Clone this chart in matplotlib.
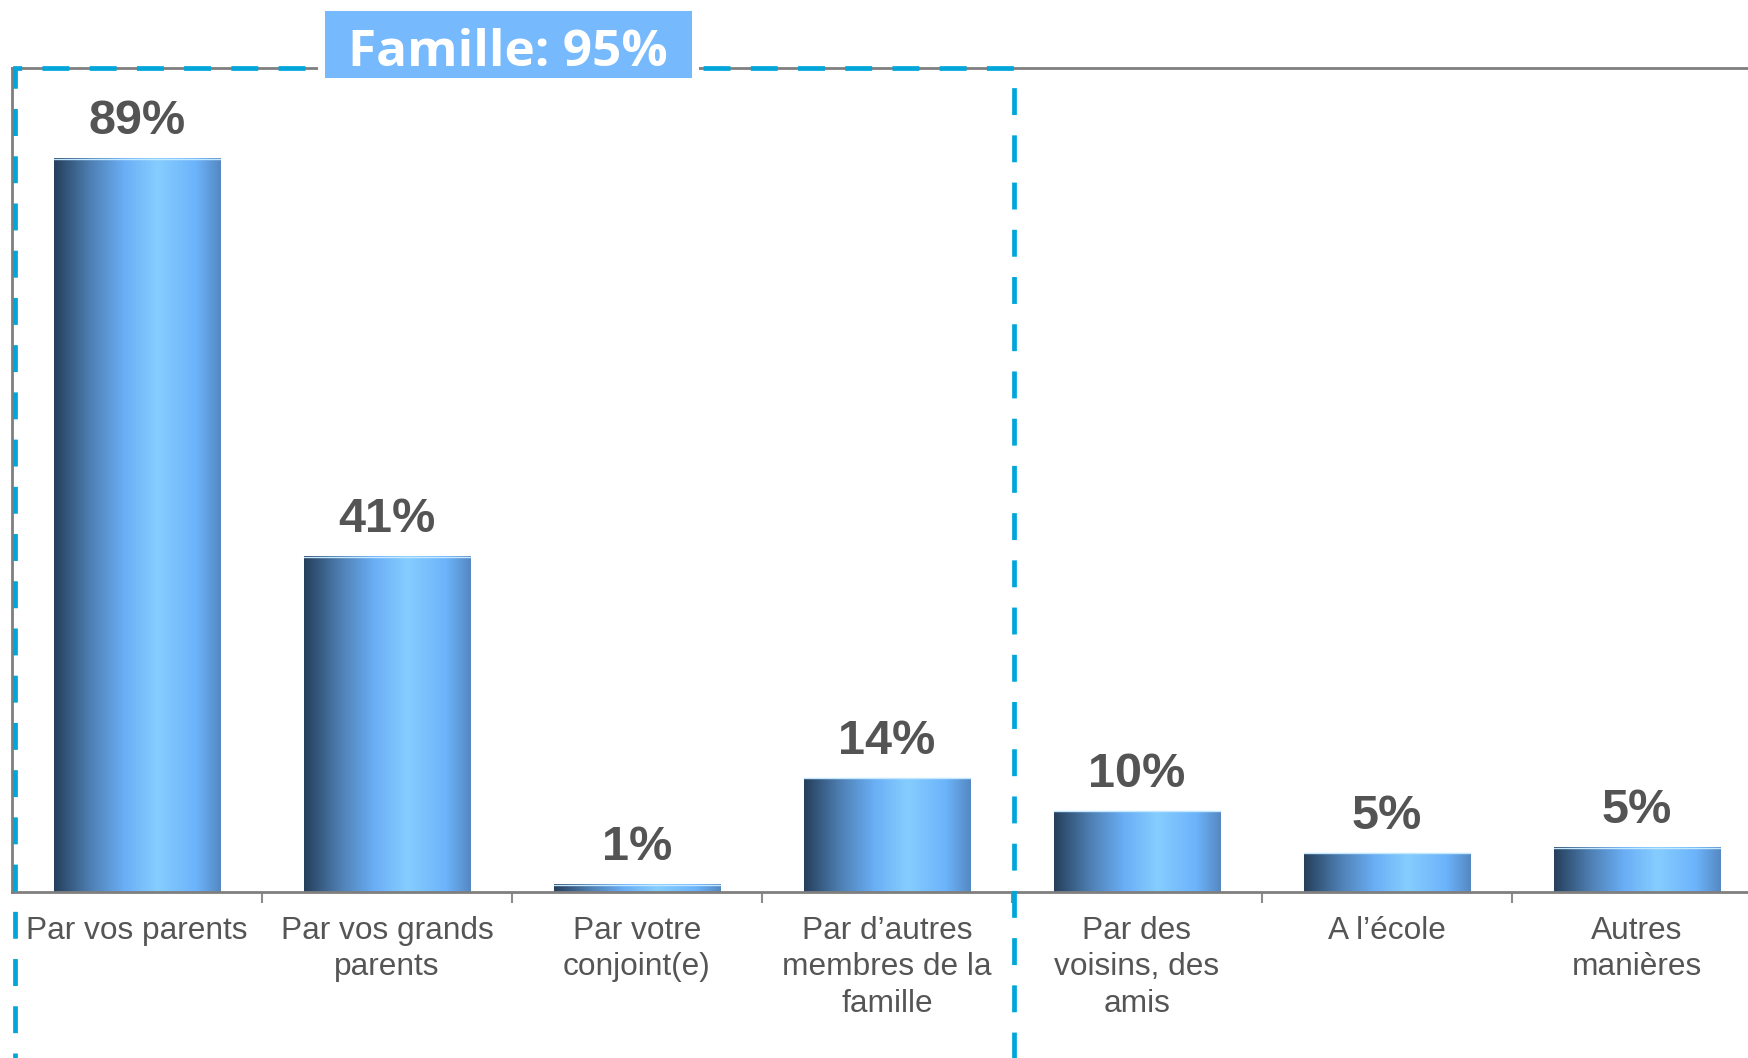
import numpy as np
import matplotlib.pyplot as plt
from matplotlib.colors import LinearSegmentedColormap
from matplotlib.patches import Rectangle

# Data
categories = ["Par vos parents", "Par vos grands\nparents", "Par votre\nconjoint(e)",
              "Par d\u2019autres\nmembres de la\nfamille", "Par des\nvoisins, des\namis",
              "A l\u2019\u00e9cole", "Autres\nmani\u00e8res"]
heights = [89, 40.7, 0.9, 13.8, 9.8, 4.7, 5.4]
value_labels = ["89%", "41%", "1%", "14%", "10%", "5%", "5%"]
group_label = "Famille: 95%"

W, H = 1749, 1058
fig = plt.figure(figsize=(W / 100, H / 100), dpi=100)

# axes in pixel units -> figure fraction
ax_left, ax_top, ax_bottom = 12, 68, 892
slot = 250
ax = fig.add_axes([ax_left / W, 1 - ax_bottom / H, 7 * slot / W, (ax_bottom - ax_top) / H])

grad = LinearSegmentedColormap.from_list("bar", [
    (0.0, "#263f5c"), (0.22, "#4f80b4"), (0.42, "#6aaef5"),
    (0.62, "#86cdff"), (0.85, "#6cb4fb"), (1.0, "#5688c2")])
gimg = np.linspace(0, 1, 256).reshape(1, -1)

x = np.arange(len(categories))
bw = 0.665
bars = ax.bar(x, heights, width=bw, color="none", edgecolor="none")
for b, lab in zip(bars, value_labels):
    x0, w, h = b.get_x(), b.get_width(), b.get_height()
    ax.imshow(gimg, cmap=grad, aspect="auto", extent=(x0, x0 + w, 0, h),
              interpolation="bilinear", zorder=2)
    ax.plot([x0, x0 + w], [h, h], color="#c4e8ff", lw=1.0, zorder=3)
    ax.annotate(lab, (x0 + w / 2, h), xytext=(0, 10.5), textcoords="offset points",
                ha="center", va="bottom", fontsize=35, fontweight="bold",
                color="#545454", family=["Liberation Sans", "DejaVu Sans"])
ax.set_xlim(-0.5, len(categories) - 0.5)
ax.set_ylim(0, 100)

# axis styling
for s in ["left", "top", "bottom", "right"]:
    ax.spines[s].set_color("#7f7f7f")
    ax.spines[s].set_linewidth(2)
ax.set_yticks([])
ax.set_xticks(x)
ax.set_xticklabels(categories, fontsize=22.8, color="#555555",
                   family=["Liberation Sans", "DejaVu Sans"], linespacing=1.29)
ax.tick_params(axis="x", which="major", length=0, pad=17)
ax.set_xticks(x[:-1] + 0.5, minor=True)
ax.tick_params(axis="x", which="minor", length=8, width=1.5, color="#8c8c8c")

# dashed "Famille" frame, drawn in pixel coordinates
def px(xp, yp):
    return xp / W, 1 - yp / H

fx0, fx1, fy0, fy1 = 15, 1014, 68, 1059.5
frame = Rectangle(px(fx0, fy1), (fx1 - fx0) / W, (fy1 - fy0) / H, transform=fig.transFigure,
                  fill=False, edgecolor="#00a6da", linewidth=3.4, linestyle=(0, (5.7, 4.3)),
                  zorder=10)
fig.patches.append(frame)

bx0, bx1, by0, by1 = 321, 695, 7, 81
box = Rectangle(px(bx0, by1), (bx1 - bx0) / W, (by1 - by0) / H, transform=fig.transFigure,
                facecolor="#76b9fc", edgecolor="white", linewidth=5, zorder=11)
fig.patches.append(box)
fig.text((bx0 + bx1) / 2 / W, 1 - 53 / H, group_label, ha="center", va="center",
         fontsize=37, fontweight="bold", color="white",
         family=["Open Sans", "DejaVu Sans"], zorder=12)

fig.savefig("out.png", dpi=100)
